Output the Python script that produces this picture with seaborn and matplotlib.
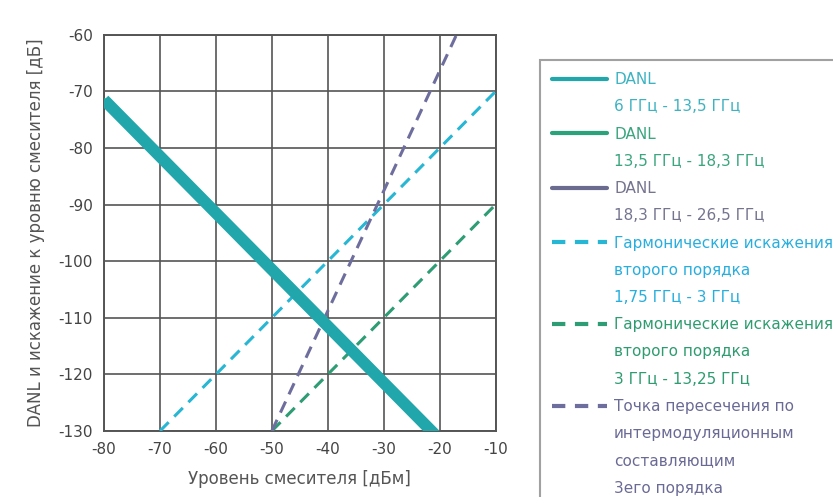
import matplotlib
matplotlib.use("Agg")
import matplotlib.pyplot as plt
from matplotlib.lines import Line2D
import pandas as pd
import seaborn as sns

# Mixer level axis (dBm) and line end points (dB relative to mixer level)
danl_x = [-80, -20]
danl_6_13 = [-71.5, -131.5]
danl_13_18 = [-71.5, -131.5]
danl_18_26 = [-72.0, -132.0]

shd_175_3_x = [-70, -10]
shd_175_3_y = [-130, -70]

shd_3_1325_x = [-50, -10]
shd_3_1325_y = [-130, -90]

toi_x = [-50, -17]
toi_y = [-130, -60]

x_ticks = [-80, -70, -60, -50, -40, -30, -20, -10]
y_ticks = [-130, -120, -110, -100, -90, -80, -70, -60]

legend_labels = [
    ["DANL", "6 ГГц - 13,5 ГГц"],
    ["DANL", "13,5 ГГц - 18,3 ГГц"],
    ["DANL", "18,3 ГГц - 26,5 ГГц"],
    ["Гармонические искажения", "второго порядка", "1,75 ГГц - 3 ГГц"],
    ["Гармонические искажения", "второго порядка", "3 ГГц - 13,25 ГГц"],
    ["Точка пересечения по", "интермодуляционным", "составляющим", "3его порядка"],
]

c_danl1 = "#21a7ab"
c_danl2 = "#2aa27a"
c_danl3 = "#6b6b8f"
c_shd1 = "#27b6d3"
c_shd2 = "#2e9c74"
c_toi = "#6e6e9e"

text_colors = ["#3db3c2", "#3aa57e", "#74748f", "#27aede", "#2e9c70", "#6a6a96"]

sns.set_style("white")
plt.rcParams["font.family"] = ["DejaVu Sans"]
plt.rcParams["axes.unicode_minus"] = False

fig = plt.figure(figsize=(8.33, 4.97), dpi=100)
ax = fig.add_axes([0.125, 0.133, 0.47, 0.797])

danl = pd.DataFrame({"x": danl_x, "a": danl_6_13, "b": danl_13_18, "c": danl_18_26})
sns.lineplot(data=danl, x="x", y="c", ax=ax, color=c_danl3, linewidth=3, zorder=3)
sns.lineplot(data=danl, x="x", y="b", ax=ax, color=c_danl2, linewidth=3, zorder=3)
sns.lineplot(data=danl, x="x", y="a", ax=ax, color=c_danl1, linewidth=8.5,
             solid_capstyle="butt", zorder=4)

dash = (4, 2.6)
sns.lineplot(x=shd_175_3_x, y=shd_175_3_y, ax=ax, color=c_shd1, linewidth=2.2,
             linestyle=(0, dash), zorder=3)
sns.lineplot(x=shd_3_1325_x, y=shd_3_1325_y, ax=ax, color=c_shd2, linewidth=2.2,
             linestyle=(0, dash), zorder=3)
sns.lineplot(x=toi_x, y=toi_y, ax=ax, color=c_toi, linewidth=2.2,
             linestyle=(0, dash), zorder=3)

ax.set_xlim(-80, -10)
ax.set_ylim(-130, -60)
ax.set_xticks(x_ticks)
ax.set_yticks(y_ticks)
ax.grid(True, color="#555555", linewidth=1.2, zorder=1)
ax.set_axisbelow(True)
for s in ax.spines.values():
    s.set_color("#555555")
    s.set_linewidth(1.4)
ax.tick_params(axis="both", labelsize=11, labelcolor="#444444", length=0, pad=8)
ax.set_xlabel("Уровень смесителя [дБм]", fontsize=12, color="#555555", labelpad=9)
ax.set_ylabel("DANL и искажение к уровню смесителя [дБ]", fontsize=12,
              color="#555555", labelpad=10)

# Legend: one row per text line, the handle sits on the first line of each entry
dash_h = (0, (3.2, 2.3))
styles = [
    dict(color=c_danl1, linewidth=3, linestyle="-"),
    dict(color=c_danl2, linewidth=3, linestyle="-"),
    dict(color=c_danl3, linewidth=3, linestyle="-"),
    dict(color=c_shd1, linewidth=3, linestyle=dash_h),
    dict(color=c_shd2, linewidth=3, linestyle=dash_h),
    dict(color=c_toi, linewidth=3, linestyle=dash_h),
]
handles, labels, colors = [], [], []
for st, lines, tc in zip(styles, legend_labels, text_colors):
    for i, line in enumerate(lines):
        if i == 0:
            handles.append(Line2D([], [], **st))
        else:
            handles.append(Line2D([], [], color="none"))
        labels.append(line)
        colors.append(tc)

leg = fig.legend(handles, labels, loc="upper left",
                 bbox_to_anchor=(540 / 833, 1 - 60 / 497),
                 bbox_transform=fig.transFigure, borderaxespad=0,
                 fontsize=11, handlelength=3.6, handletextpad=0.45,
                 labelspacing=0.8, borderpad=0.8, fancybox=False,
                 frameon=True, edgecolor="#8a8a8a")
leg.get_frame().set_linewidth(1.5)
for t, c in zip(leg.get_texts(), colors):
    t.set_color(c)

fig.savefig("out.png", dpi=100)
